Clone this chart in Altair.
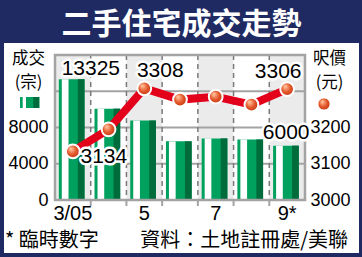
import altair as alt
import pandas as pd

# ---------------- data ----------------
months = ["3", "4", "5", "6", "7", "8", "9"]
volumes = [13325, 10080, 8770, 6470, 6800, 6680, 6000]
prices = [3134, 3195, 3308, 3277, 3285, 3263, 3306]
x_tick_months = ["3", "5", "7", "9"]
x_tick_labels = ["3/05", "5", "7", "9*"]
shaded_months = ["3", "5", "7", "9"]
boundary_months = ["4", "5", "6", "7", "8", "9"]
grid_values = [4000, 8000, 12000]
vol_ticks = [0, 4000, 8000]
price_ticks = [3000, 3100, 3200]
vol_domain = [0, 16000]
price_domain = [3000, 3400]
title_text = "二手住宅成交走勢"
left_title = "成交\n(宗)"
right_title = "呎價\n(元)"
note_left = "* 臨時數字"
note_right = "資料：土地註冊處/美聯"

NAVY = "#1f2a63"
LIGHT = "#00a15e"
DARK = "#006b3b"
RED = "#e2001a"
GRID = "#a3a3a3"
NUM_FONT = "Liberation Sans"
CJK_FONT = "Noto Sans CJK TC"

df = pd.DataFrame({"m": months, "vol": volumes, "price": prices})

xscale = alt.Scale(type="band", domain=months, paddingInner=0, paddingOuter=0)
vscale = alt.Scale(domain=vol_domain, nice=False, zero=True)
pscale = alt.Scale(domain=price_domain, nice=False, zero=False)


def X(axis=None, **kw):
    return alt.X("m:N", scale=xscale, axis=axis, title=None, **kw)


label_expr = " : ".join(
    f"datum.value == '{m}' ? '{t}'" for m, t in zip(x_tick_months, x_tick_labels)
) + " : ''"

x_axis = alt.Axis(values=x_tick_months, labelExpr=label_expr, ticks=False, domain=False,
                  labelFont=NUM_FONT, labelFontSize=20, labelColor="black",
                  labelPadding=3, labelAngle=0, title=None, zindex=2)
left_axis = alt.Axis(values=vol_ticks, orient="left", grid=False, ticks=False, domain=False,
                     labelFont=NUM_FONT, labelFontSize=18, labelColor="black", format="d",
                     labelPadding=7, labelFlush=False, labelOverlap=False, title=None,
                     zindex=2)
right_axis = alt.Axis(values=price_ticks, orient="right", grid=False, ticks=False, domain=False,
                      labelFont=NUM_FONT, labelFontSize=18, labelColor="black", format="d",
                      labelPadding=5, labelFlush=False, labelOverlap=False, title=None,
                      zindex=2)

one = pd.DataFrame({"a": [0]})

# white body
body = alt.Chart(one).mark_rect(color="white").encode(
    x=alt.value(-51), x2=alt.value(304), y=alt.value(-12), y2=alt.value(198))

# shaded columns
shade = alt.Chart(pd.DataFrame({"m": shaded_months})).mark_rect(color="#ebebeb").encode(
    x=X(), y=alt.value(0), y2=alt.value(145))

# horizontal gridlines
grid = alt.Chart(pd.DataFrame({"g": grid_values})).mark_rule(color=GRID, strokeWidth=2).encode(
    y=alt.Y("g:Q", scale=vscale, axis=None), x=alt.value(0), x2=alt.value(250))

# dashed boundary lines
dash = alt.Chart(pd.DataFrame({"m": boundary_months})).mark_rule(
    color="#7a7a7a", strokeWidth=1.5, strokeDash=[5, 4]).encode(
    x=X(bandPosition=0), y=alt.value(0), y2=alt.value(145))

# bars
bar_main = alt.Chart(df).mark_bar(width=25.7, xOffset=-1.2, color=LIGHT).encode(
    x=X(axis=x_axis), y=alt.Y("vol:Q", scale=vscale, axis=left_axis))
bar_hi = alt.Chart(df).mark_bar(width=6.7, xOffset=-7.7, color="white").encode(
    x=X(), y=alt.Y("vol:Q", scale=vscale, axis=None))
bar_dark = alt.Chart(df).mark_bar(width=6.7, xOffset=8.3, color=DARK).encode(
    x=X(), y=alt.Y("vol:Q", scale=vscale, axis=None))

# frame
frame = alt.Chart(one).mark_rect(fill=None, stroke=GRID, strokeWidth=2.5).encode(
    x=alt.value(0), x2=alt.value(250), y=alt.value(0), y2=alt.value(145))
bticks = alt.Chart(pd.DataFrame({"m": boundary_months})).mark_rule(
    color=GRID, strokeWidth=2).encode(
    x=X(bandPosition=0), y=alt.value(145), y2=alt.value(151))

# price line and points
line = alt.Chart(df).mark_line(color=RED, strokeWidth=8).encode(
    x=X(), y=alt.Y("price:Q", scale=pscale, axis=right_axis))
ball = alt.RadialGradient(
    gradient="radial", x1=0.35, y1=0.3, r1=0.05, x2=0.5, y2=0.5, r2=0.6,
    stops=[alt.GradientStop(color="#ffc09a", offset=0),
           alt.GradientStop(color="#e4572a", offset=0.5),
           alt.GradientStop(color="#b8300e", offset=1)])
points = alt.Chart(df).mark_point(filled=True, shape="circle", size=190, fill=ball,
                                  stroke="white", strokeWidth=2, opacity=1).encode(
    x=X(), y=alt.Y("price:Q", scale=pscale, axis=None))


def value_label(idx, field, scale, dx, dy):
    sub = df.iloc[[idx]].copy()
    sub["t"] = sub[field].astype(str)
    base = alt.Chart(sub).encode(
        x=X(), y=alt.Y(f"{field}:Q", scale=scale, axis=None), text="t:N")
    halo = base.mark_text(dx=dx, dy=dy, font=NUM_FONT, fontSize=21, color="white",
                          stroke="white", strokeWidth=5, strokeJoin="round",
                          align="center", baseline="middle")
    txt = base.mark_text(dx=dx, dy=dy, font=NUM_FONT, fontSize=21, color="black",
                         align="center", baseline="middle")
    return [halo, txt]


labels = []
labels += value_label(0, "vol", vscale, 18, -10)
labels += value_label(6, "vol", vscale, -1, -13)
labels += value_label(0, "price", pscale, 31, 6)
labels += value_label(2, "price", pscale, 16, -17)
labels += value_label(6, "price", pscale, -9, -17)


def deco_text(text, x, y, size, font=CJK_FONT, color="black", weight="normal",
              align="center", baseline="middle", line_height=22):
    return alt.Chart(pd.DataFrame({"t": [text]})).mark_text(
        font=font, fontSize=size, color=color, fontWeight=weight,
        align=align, baseline=baseline, lineBreak="\n", lineHeight=line_height).encode(
        x=alt.value(x), y=alt.value(y), text="t:N")


title = deco_text(title_text, 126.5, -30, 30, color="white", weight="bold")
ltitle = deco_text(left_title, -26.5, -4, 16.5, baseline="top", line_height=24)
rtitle = deco_text(right_title, 274.5, -4, 16.5, baseline="top", line_height=24)
note_l = deco_text(note_left, -50, 186, 20, align="left")
note_r = deco_text(note_right, 293, 186, 20, align="right")

# legend icons
leg_l = alt.Chart(one).mark_rect(color=LIGHT).encode(
    x=alt.value(-35), x2=alt.value(-15.7), y=alt.value(42), y2=alt.value(53))
leg_w = alt.Chart(one).mark_rect(color="white").encode(
    x=alt.value(-32.3), x2=alt.value(-29), y=alt.value(42), y2=alt.value(53))
leg_d = alt.Chart(one).mark_rect(color=DARK).encode(
    x=alt.value(-21.7), x2=alt.value(-15.7), y=alt.value(42), y2=alt.value(53))
leg_ball = alt.Chart(one).mark_point(filled=True, shape="circle", size=150, fill=ball,
                                     stroke="white", strokeWidth=1, opacity=1).encode(
    x=alt.value(269), y=alt.value(49))

chart = alt.layer(
    body, shade, grid, dash, bar_main, bar_hi, bar_dark, frame, bticks,
    line, points, *labels, title, ltitle, rtitle, note_l, note_r,
    leg_l, leg_w, leg_d, leg_ball,
).resolve_scale(y="independent").resolve_axis(x="independent").properties(
    width=250, height=145,
    autosize=alt.AutoSizeParams(type="none"),
    padding={"left": 55, "top": 55, "right": 57, "bottom": 57},
    background=NAVY,
).configure_view(strokeWidth=0)

chart.save("out.html", embed_options={"renderer": "svg", "actions": False})
